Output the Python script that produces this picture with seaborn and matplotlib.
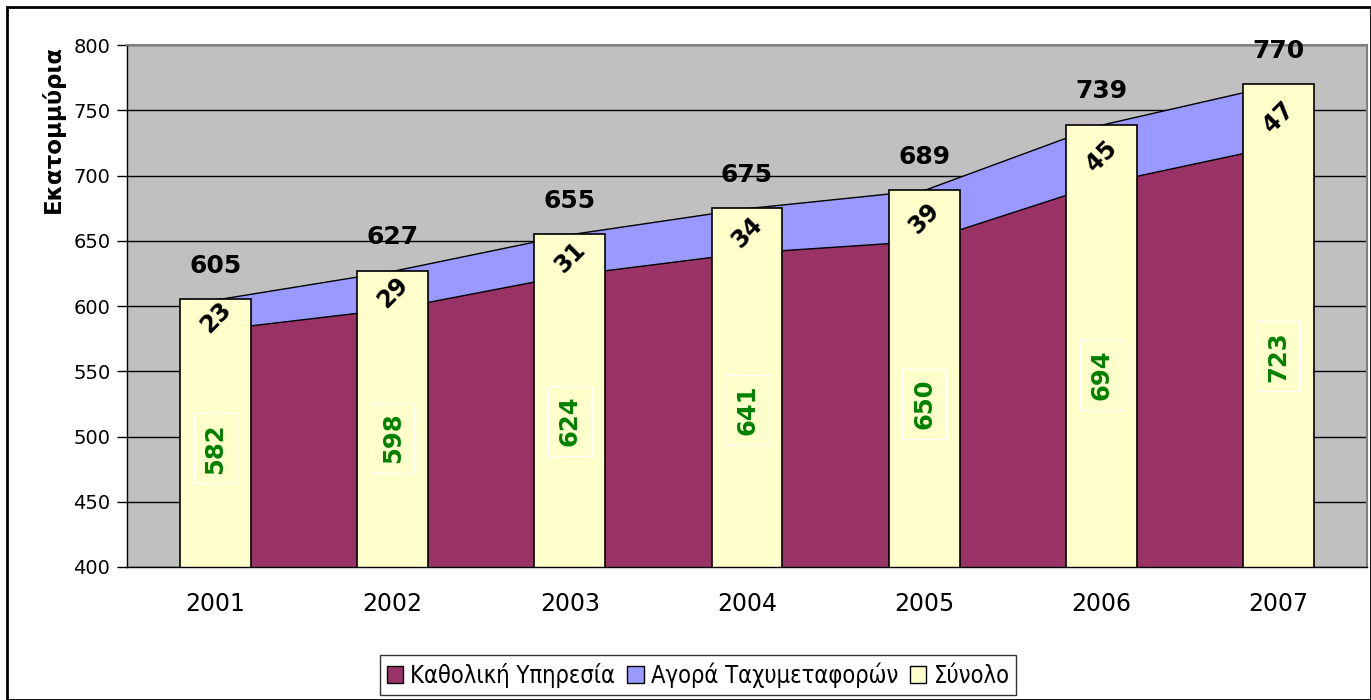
import numpy as np
import pandas as pd
import matplotlib.pyplot as plt
import matplotlib.patches as mpatches
import seaborn as sns

# data (millions)
years = ["2001", "2002", "2003", "2004", "2005", "2006", "2007"]
universal = [582, 598, 624, 641, 650, 694, 723]
express = [23, 29, 31, 34, 39, 45, 47]
totals = [605, 627, 655, 675, 689, 739, 770]

series_names = ["Καθολική Υπηρεσία", "Αγορά Ταχυμεταφορών", "Σύνολο"]
colors = ["#993366", "#9999FF", "#FFFFCC"]

sns.set_theme(style="white")
plt.rcParams['font.family'] = ['DejaVu Sans']
plt.rcParams['text.color'] = 'black'
plt.rcParams['axes.labelcolor'] = 'black'
plt.rcParams['xtick.color'] = 'black'
plt.rcParams['ytick.color'] = 'black'

df = pd.DataFrame({"year": years, "total": totals})

fig = plt.figure(figsize=(13.71, 7.0), dpi=100)
ax = fig.add_axes([127 / 1371, 1 - 567 / 700, 1240 / 1371, 522 / 700])
ax.set_facecolor("#C0C0C0")

x = np.arange(len(years))
# stacked area behind the bars
ax.stackplot(x, universal, express, colors=colors[:2], edgecolor="black",
             linewidth=1, zorder=1)

# total bars
sns.barplot(data=df, x="year", y="total", color=colors[2], width=0.4,
            edgecolor="black", linewidth=1.2, saturation=1, ax=ax, zorder=2)
for p in ax.patches:
    p.set_zorder(2)

ax.set_ylim(400, 800)
ax.set_xlim(-0.5, 6.5)
ax.set_yticks(np.arange(400, 801, 50))
ax.yaxis.grid(True, color="black", linewidth=1)
ax.set_axisbelow(True)

# ticks between categories, labels at centres
ax.set_xticks(np.arange(-0.5, 7, 1))
ax.set_xticklabels([])
ax.set_xticks(x, minor=True)
ax.set_xticklabels(years, minor=True, fontsize=17)
ax.tick_params(axis="x", which="major", direction="inout", length=14, width=1, color="black")
ax.tick_params(axis="x", which="minor", length=0, pad=18)
ax.tick_params(axis="y", direction="out", length=7, width=1, color="black",
               labelsize=14, left=True, pad=5)
ax.set_xlabel("")
ax.set_ylabel("Εκατομμύρια", fontsize=16.5, fontweight="bold", labelpad=6, loc="top")

for side in ["left", "bottom"]:
    ax.spines[side].set_color("black")
    ax.spines[side].set_linewidth(1)
for side in ["top", "right"]:
    ax.spines[side].set_color("#808080")
    ax.spines[side].set_linewidth(1.5)

# value labels
for i in range(len(years)):
    ax.annotate(str(totals[i]), (i, totals[i]), xytext=(0, 24), textcoords="offset points",
                ha="center", va="center", fontsize=18, fontweight="bold", zorder=5)
    ax.text(i, universal[i] + express[i] / 2 - 2, str(express[i]), rotation=45,
            ha="center", va="center", fontsize=17, fontweight="bold", zorder=5)
    ax.text(i, (400 + universal[i]) / 2, str(universal[i]), rotation=90,
            ha="center", va="center", fontsize=17.5, fontweight="bold", color="#008000",
            zorder=5, bbox=dict(boxstyle="square,pad=0.4", fc="none", ec="white", lw=1))

handles = [mpatches.Patch(facecolor=c, edgecolor="black", linewidth=1) for c in colors]
leg = fig.legend(handles, series_names, loc="center", bbox_to_anchor=(698 / 1371, 1 - 675 / 700),
                 ncol=3, frameon=True, fancybox=False, edgecolor="black",
                 prop={"family": ["DejaVu Sans"], "stretch": "condensed", "size": 17},
                 handlelength=0.7, handleheight=0.7, handletextpad=0.3, columnspacing=0.5,
                 borderpad=0.3, borderaxespad=0)
leg.get_frame().set_linewidth(1)

# outer chart border
fig.patches.append(mpatches.Rectangle((7 / 1371, 0.0), 1 - 7 / 1371, 1 - 7 / 700,
                                      transform=fig.transFigure, fill=False,
                                      edgecolor="black", linewidth=2))

fig.savefig("out.png", dpi=100)
